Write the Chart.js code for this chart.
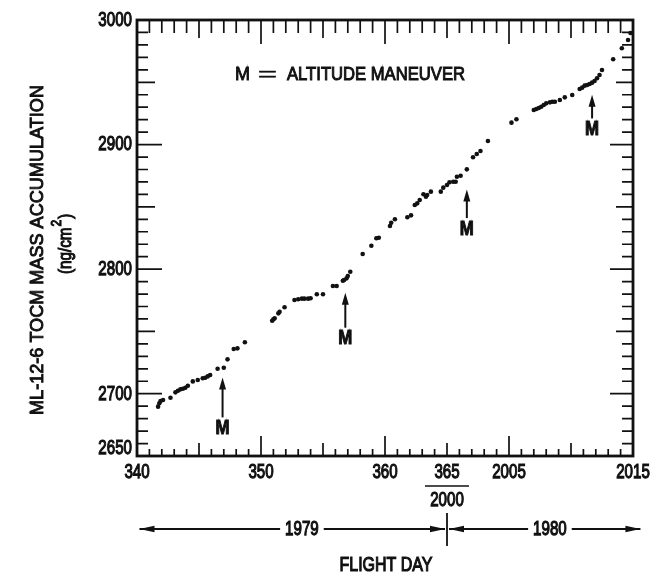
<!DOCTYPE html>
<html>
<head>
<meta charset="utf-8">
<script src="https://cdn.jsdelivr.net/npm/chart.js@4.4.1/dist/chart.umd.min.js"></script>
<style>
  html, body { margin: 0; padding: 0; background: #fff; }
  #wrap { width: 657px; height: 579px; }
</style>
</head>
<body>
<div id="wrap"><canvas id="chart" width="657" height="579"></canvas></div>
<script>
// ---- data (flight day on a continuous axis: 365 == 2000, 370 == 2005, 380 == 2015)
const flightDays = [
  341.7, 341.8, 341.9, 342.1, 342.7, 343.1, 343.3, 343.5, 343.7, 343.9, 344.1, 344.5, 344.9, 345.3, 345.5, 345.7, 345.9,
  346.5, 347.0, 347.3, 347.8, 348.1, 348.7,
  350.9, 351.0, 351.1, 351.4, 351.5, 351.9, 352.7, 353.0, 353.3, 353.5, 353.8, 354.0, 354.5, 355.0, 355.8, 356.1,
  356.6, 356.7, 356.9, 357.0, 357.2, 358.2, 358.9, 359.3, 359.5, 360.4, 360.5, 360.8,
  361.8, 362.1, 362.4, 362.6, 362.8, 363.1, 363.3, 363.4, 363.7, 364.5, 364.7, 365.0, 365.2, 365.5, 365.7, 365.8, 366.1,
  366.6, 367.1, 367.4, 367.7, 368.3,
  370.2, 370.6, 372.0, 372.2, 372.4, 372.6, 372.8, 373.0, 373.3, 373.5, 373.7, 374.1, 374.5, 375.1,
  375.7, 375.9, 376.1, 376.3, 376.5, 376.7, 376.9, 377.1, 377.3, 377.5, 378.4, 379.1, 379.6, 379.8
];
const massValues = [
  2689.6, 2692.3, 2694.1, 2694.9, 2696.8, 2701.1, 2702.4, 2703.5, 2704.0, 2704.8, 2706.4, 2709.9, 2711.0, 2712.4, 2712.8, 2713.9, 2715.0,
  2720.1, 2720.9, 2727.6, 2735.9, 2736.4, 2741.3,
  2758.6, 2759.7, 2760.5, 2764.5, 2765.8, 2769.4, 2775.2, 2775.8, 2776.3, 2776.3, 2776.3, 2776.6, 2779.8, 2779.8, 2786.5, 2786.5,
  2790.7, 2791.3, 2792.6, 2794.5, 2797.9, 2812.1, 2818.8, 2824.8, 2825.2, 2834.6, 2837.3, 2840.0,
  2841.6, 2843.2, 2851.5, 2852.8, 2855.5, 2860.1, 2858.1, 2859.5, 2862.2, 2862.2, 2865.4, 2867.5, 2869.7, 2870.2, 2870.2, 2874.2, 2875.0,
  2880.1, 2889.8, 2892.4, 2894.8, 2902.9,
  2917.6, 2920.3, 2927.7, 2928.5, 2929.4, 2930.4, 2931.8, 2933.1, 2933.9, 2934.4, 2934.4, 2935.8, 2937.9, 2939.8,
  2944.6, 2945.7, 2947.3, 2947.8, 2948.6, 2949.7, 2951.0, 2953.2, 2955.8, 2959.9, 2968.5, 2977.3, 2983.9, 2989.6
];

const xTickValues = [340, 350, 360, 365, 370, 380];
const xTickLabels = ['340', '350', '360', '365', '2005', '2015'];
const yTickValues = [2650, 2700, 2800, 2900, 3000];
const yTickLabels = ['2650', '2700', '2800', '2900', '3000'];

// altitude maneuvers: day, arrow tip and tail (ng/cm2)
const maneuverDays = [346.9, 356.8, 366.6, 376.7];
const arrowTips = [2713, 2781, 2864, 2940];
const arrowTails = [2681, 2753, 2841, 2921];

// year bar under the axis
const yearNames = ['1979', '1980'];
const yearLabelDays = [353.3, 373.3];
const yearBarDays = [340.2, 365, 380.6];

const INK = '#111';
const FONT = '"Liberation Sans", Arial, sans-serif';

// condensed text: the original lettering is a tall narrow face
function label(ctx, text, x, y, o = {}) {
  const size = o.size || 21;
  ctx.save();
  ctx.font = (o.bold ? 'bold ' : '') + size + 'px ' + FONT;
  ctx.textBaseline = 'middle';
  ctx.textAlign = 'left';
  const w = ctx.measureText(text).width;
  const sx = o.width ? o.width / w : (o.sx || 0.72);
  const tw = w * sx;
  let left = x;
  if (o.align === 'center' || !o.align) left = x - tw / 2;
  else if (o.align === 'right') left = x - tw;
  ctx.translate(left, y);
  ctx.scale(sx, 1);
  ctx.fillText(text, 0, 0);
  ctx.lineWidth = 0.9 / sx;
  ctx.strokeText(text, 0, 0);
  ctx.restore();
  return tw;
}

function arrowHead(ctx, x, y, dir, len, half) {
  ctx.beginPath();
  ctx.moveTo(x, y);
  ctx.lineTo(x - dir * len, y - half);
  ctx.lineTo(x - dir * len, y + half);
  ctx.closePath();
  ctx.fill();
}

const framePlugin = {
  id: 'frame',
  afterDraw(chart) {
    const { ctx, chartArea: a, scales: { x, y } } = chart;
    ctx.save();
    ctx.strokeStyle = INK;
    ctx.fillStyle = INK;

    // inward ticks
    ctx.lineWidth = 1.7;
    ctx.beginPath();
    for (let d = 340; d <= 380; d++) {
      const px = x.getPixelForValue(d);
      const bot = d % 10 === 0 ? 20 : d % 5 === 0 ? 13 : 7;
      const top = d % 10 === 0 ? 24 : d % 5 === 0 ? 18 : 13;
      ctx.moveTo(px, a.bottom); ctx.lineTo(px, a.bottom - bot);
      ctx.moveTo(px, a.top); ctx.lineTo(px, a.top + top);
    }
    for (let v = 2650; v <= 3000; v += 10) {
      const py = y.getPixelForValue(v);
      const left = v % 100 === 0 ? 25 : v % 50 === 0 ? 18 : 11;
      const right = v % 100 === 0 ? 23 : v % 50 === 0 ? 17 : 11;
      ctx.moveTo(a.left, py); ctx.lineTo(a.left + left, py);
      ctx.moveTo(a.right, py); ctx.lineTo(a.right - right, py);
    }
    ctx.stroke();

    // frame
    ctx.lineWidth = 2.8;
    ctx.strokeRect(a.left, a.top, a.right - a.left, a.bottom - a.top);

    // tick labels
    xTickValues.forEach((v, i) => label(ctx, xTickLabels[i], x.getPixelForValue(v), a.bottom + 16));
    yTickValues.forEach((v, i) => {
      const py = y.getPixelForValue(v) - (v === 2650 ? 8 : 0);
      label(ctx, yTickLabels[i], a.left - 5, py, { align: 'right' });
    });
    const p365 = x.getPixelForValue(365);
    label(ctx, '2000', p365, a.bottom + 44);
    ctx.lineWidth = 1.4;
    ctx.beginPath();
    ctx.moveTo(p365 - 22, a.bottom + 30);
    ctx.lineTo(p365 + 22, a.bottom + 30);
    ctx.stroke();

    // maneuver arrows
    ctx.lineWidth = 2;
    maneuverDays.forEach((d, i) => {
      const px = x.getPixelForValue(d);
      const tip = y.getPixelForValue(arrowTips[i]);
      const tail = y.getPixelForValue(arrowTails[i]);
      ctx.beginPath();
      ctx.moveTo(px, tail);
      ctx.lineTo(px, tip + 8);
      ctx.stroke();
      ctx.beginPath();
      ctx.moveTo(px, tip);
      ctx.lineTo(px - 3.5, tip + 12);
      ctx.lineTo(px + 3.5, tip + 12);
      ctx.closePath();
      ctx.fill();
      label(ctx, 'M', px, tail + 11, { size: 21, bold: true, width: 14 });
    });

    // key
    label(ctx, 'M', 235, 75, { size: 19, align: 'left', width: 15 });
    label(ctx, '=', 258, 75, { size: 19, align: 'left', width: 19 });
    label(ctx, 'ALTITUDE MANEUVER', 287, 75, { size: 19, align: 'left', width: 178 });

    // year bar
    const yb = 529;
    const x0 = x.getPixelForValue(yearBarDays[0]);
    const xm = x.getPixelForValue(yearBarDays[1]);
    const x1 = x.getPixelForValue(yearBarDays[2]);
    const gaps = yearNames.map((t, i) => {
      const c = x.getPixelForValue(yearLabelDays[i]);
      const w = label(ctx, t, c, yb) / 2 + 5;
      return [c - w, c + w];
    });
    ctx.lineWidth = 1.8;
    ctx.beginPath();
    ctx.moveTo(x0, yb); ctx.lineTo(gaps[0][0], yb);
    ctx.moveTo(gaps[0][1], yb); ctx.lineTo(xm - 2, yb);
    ctx.moveTo(xm + 2, yb); ctx.lineTo(gaps[1][0], yb);
    ctx.moveTo(gaps[1][1], yb); ctx.lineTo(x1, yb);
    ctx.stroke();
    arrowHead(ctx, x0, yb, -1, 15, 3.2);
    arrowHead(ctx, xm - 2, yb, 1, 15, 3.2);
    arrowHead(ctx, xm + 2, yb, -1, 15, 3.2);
    arrowHead(ctx, x1, yb, 1, 15, 3.2);
    ctx.beginPath();
    ctx.moveTo(xm, yb - 16); ctx.lineTo(xm, yb + 17);
    ctx.stroke();

    label(ctx, 'FLIGHT DAY', 386, 565, { width: 93 });

    // y title
    ctx.save();
    ctx.translate(38, 250);
    ctx.rotate(-Math.PI / 2);
    label(ctx, 'ML-12-6 TOCM MASS ACCUMULATION', 0, 0, { size: 19, width: 330 });
    ctx.restore();
    ctx.save();
    ctx.translate(64, 236);
    ctx.rotate(-Math.PI / 2);
    const w1 = label(ctx, '(ng/cm', -38, 2, { size: 19, align: 'left', sx: 0.8 });
    const w2 = label(ctx, '2', -38 + w1 + 1, -7, { size: 15, align: 'left', sx: 0.8 });
    label(ctx, ')', -38 + w1 + w2 + 2, 2, { size: 19, align: 'left', sx: 0.8 });
    ctx.restore();

    ctx.restore();
  }
};

new Chart(document.getElementById('chart'), {
  type: 'scatter',
  data: {
    datasets: [{
      data: flightDays.map((d, i) => ({ x: d, y: massValues[i] })),
      pointRadius: 2.3,
      pointBackgroundColor: INK,
      pointBorderWidth: 0
    }]
  },
  options: {
    responsive: false,
    animation: false,
    devicePixelRatio: 1,
    layout: { padding: { left: 137, top: 20, right: 24, bottom: 123 } },
    plugins: { legend: { display: false }, tooltip: { enabled: false } },
    scales: {
      x: { type: 'linear', min: 340, max: 380, display: false },
      y: { type: 'linear', min: 2650, max: 3000, display: false }
    }
  },
  plugins: [framePlugin]
});
</script>
</body>
</html>
